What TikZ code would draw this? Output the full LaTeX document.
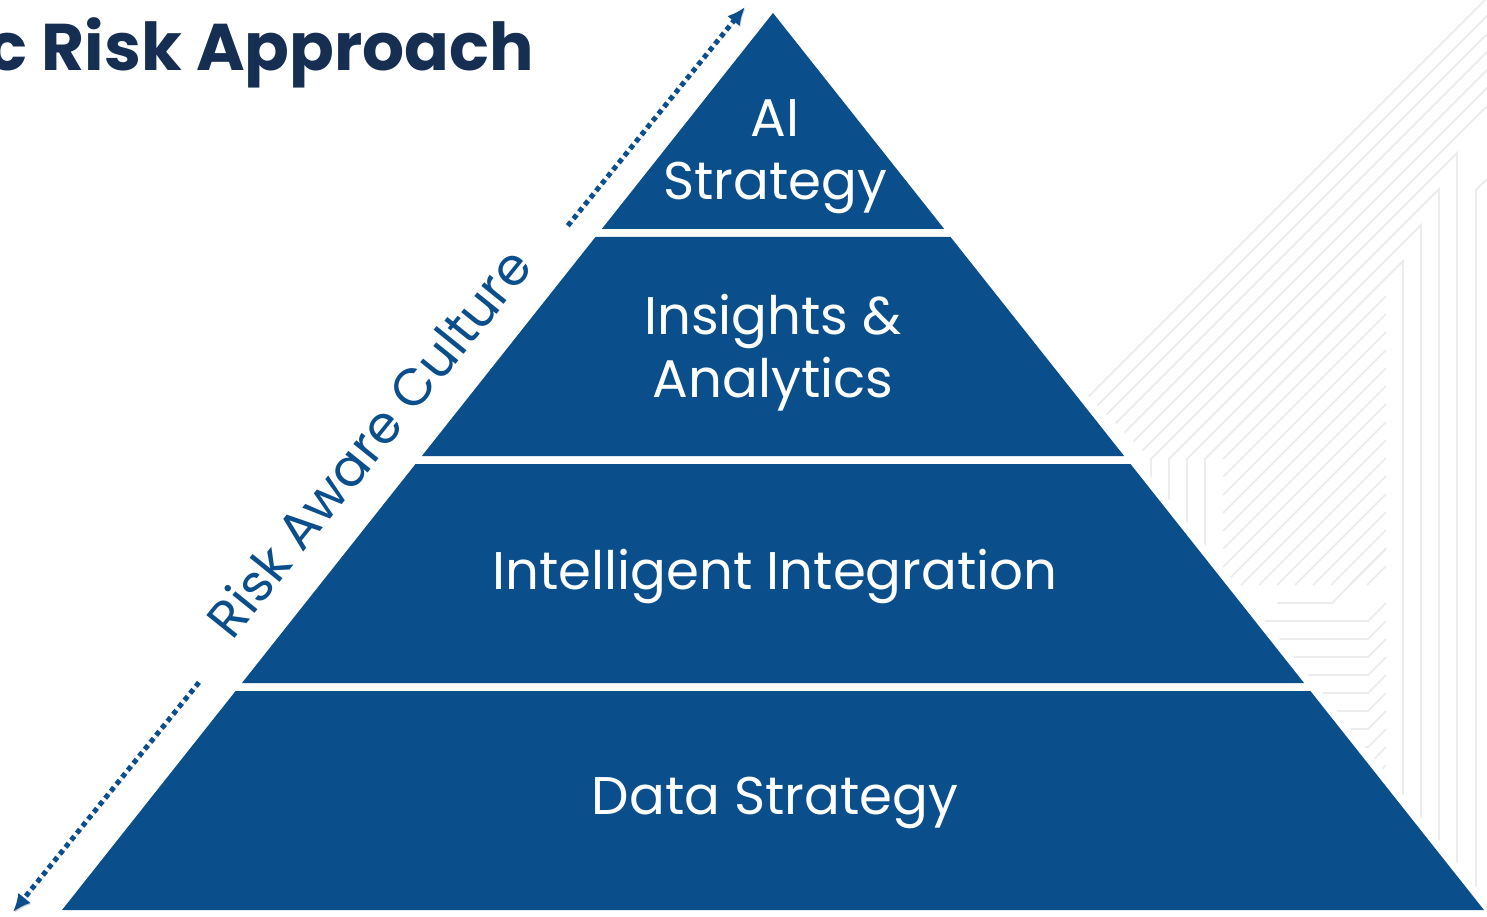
\documentclass[tikz,border=0pt]{standalone}
\usepackage{fontspec}
\setmainfont{Poppins}
\usetikzlibrary{arrows.meta,calc}
\definecolor{tierblue}{RGB}{11,78,140}
\definecolor{titlenavy}{RGB}{22,46,82}
\definecolor{traceline}{RGB}{236,236,236}
\tikzset{
  tier/.style = {text=white, align=center, inner sep=0pt, font=\fontsize{53}{63}\selectfont},
  heading/.style = {text=titlenavy, inner sep=0pt, font=\fontsize{66}{66}\selectfont\bfseries},
  trace/.style = {draw=traceline, line width=1.8pt},
  % label that sits on the dotted arrow
  culture/.style = {text=tierblue, rotate=51.07, anchor=base, inner xsep=53pt, inner ysep=0pt,
                    font=\fontsize{52}{52}\selectfont},
  dotarrow/.style = {draw=tierblue, line width=5pt, dash pattern=on 5pt off 4pt,
                     -{Latex[length=18pt,width=16pt]},
                     preaction={draw=black!18, transform canvas={shift={(0.8pt,-1.2pt)}}}}
}
\def\slope{0.7926}

\begin{document}
\begin{tikzpicture}[x=1pt, y=-1pt]
  \useasboundingbox (0,0) rectangle (1487,917);

  % background traces, right side
  \begin{scope}
    \clip (0,0) rectangle (1487,917);
    % plain strands up to the edge
    \foreach \c in {1485,1503,...,1593}
      \draw[trace] ({(\c+692)/2},{(\c-692)/2}) -- (\c,0);
    % bent strands: up, across, down
    \foreach \c/\xl/\xr/\yr in {1610/1151/1457/865, 1628/1169/1439/843, 1646/1187/1421/820, 1664/1205/1403/797}
      \draw[trace] (\xl,640) -- (\xl,{\c-\xl}) -- (\xr,{\c-\xr}) -- (\xr,\yr);
    \draw[trace] (1476,887) -- (1476,190) -- (1666,0);
    % short strands stopping at x=1386
    \foreach \c in {1682,1700,...,1953}
      \draw[trace] ({max(1223,\c-585)},{min(\c-1223,585)}) -- (1386,{\c-1386});
    % flat strands under them
    \draw[trace] (1277,603) -- (1332,603) -- (1386,549);
    \foreach \y in {621,639,...,801}
      \draw[trace] (1200,\y) -- (1368,\y) -- (1386,{\y-18});
  \end{scope}

  % white margin round the pyramid
  \filldraw[white, line width=16pt] (773,13) -- (62,910) -- (1484,910) -- cycle;

  % Tiers - from the apex down:
  \foreach \yt/\yb in {13/229, 237/456, 464/683, 691/910}{
    \pgfmathsetmacro\xt{\slope*(\yt-13)}
    \pgfmathsetmacro\xb{\slope*(\yb-13)}
    \fill[tierblue] ({773-\xt},\yt) -- ({773+\xt},\yt) -- ({773+\xb},\yb) -- ({773-\xb},\yb) -- cycle;
  }
  % Tier 1 - top:
  \node[tier] (ai) at (775,157) {AI\\Strategy};
  % Tier 2:
  \node[tier] (insights) at (773,353) {Insights \&\\Analytics};
  % Tier 3:
  \node[tier] (integration) at (775,576) {Intelligent Integration};
  % Tier 4 - base:
  \node[tier] (data) at (775,803) {Data Strategy};

  % title, cut at the left edge
  \node[heading, anchor=base east] (title) at (534,71) {c Risk Approach};

  % dotted arrow along the left side
  \coordinate (high) at (745,7);
  \coordinate (low) at (13,912);
  \node[culture] (riskculture) at ($(low)!0.506!(high)$) {Risk Aware Culture};
  \draw[dotarrow] (riskculture.base east) -- (high);
  \draw[dotarrow] (riskculture.base west) -- (low);
\end{tikzpicture}
\end{document}
